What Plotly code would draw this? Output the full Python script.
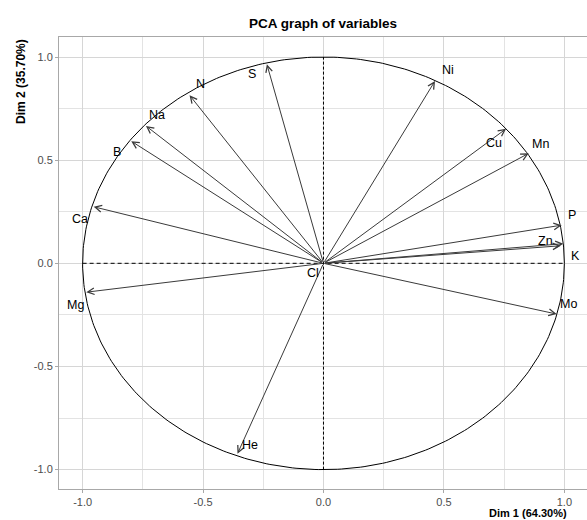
import numpy as np
import plotly.graph_objects as go

variables = ["S", "N", "Na", "B", "Ca", "Mg", "He", "Ni", "Cu", "Mn", "P", "Zn", "K", "Mo", "Cl"]
dim1 = [-0.235, -0.556, -0.737, -0.798, -0.954, -0.985, -0.357, 0.463, 0.758, 0.852, 0.989, 0.985, 0.996, 0.968, 0.01]
dim2 = [0.965, 0.815, 0.666, 0.592, 0.274, -0.140, -0.923, 0.884, 0.652, 0.533, 0.185, 0.085, 0.095, -0.246, 0.005]
tick_vals = [-1.0, -0.5, 0.0, 0.5, 1.0]
tick_text = ["-1.0", "-0.5", "0.0", "0.5", "1.0"]
title = "PCA graph of variables"
xlab = "Dim 1 (64.30%)"
ylab = "Dim 2 (35.70%)"

# label pixel offsets (layout only)
label_shift = {
    "S": (-15, -10), "N": (11, 11), "Na": (11, 11), "B": (-14, -11), "Ca": (-14, -12),
    "Mg": (-11, -13), "He": (13, 9), "Ni": (13, 11), "Cu": (-12, -14), "Mn": (12, 9),
    "P": (10, 10), "Zn": (-15, 5), "K": (12, -12), "Mo": (12, 10), "Cl": (-13, -11),
}

fig = go.Figure()

# correlation circle
t = np.linspace(0, 2 * np.pi, 400)
fig.add_trace(go.Scatter(x=np.cos(t), y=np.sin(t), mode="lines",
                         line=dict(color="black", width=1), hoverinfo="skip", showlegend=False))

# dashed axes lines inside circle
fig.add_shape(type="line", x0=-1, x1=1, y0=0, y1=0, xref="x", yref="y",
              line=dict(color="black", width=1, dash="4px,3px"))
fig.add_shape(type="line", x0=0, x1=0, y0=-1, y1=1, xref="x", yref="y",
              line=dict(color="black", width=1, dash="3px,2px"))

annotations = []
for v, x, y in zip(variables, dim1, dim2):
    annotations.append(dict(x=x, y=y, ax=0, ay=0, xref="x", yref="y", axref="x", ayref="y",
                            showarrow=True, arrowhead=5, arrowsize=1.3, arrowwidth=1,
                            arrowcolor="#3a3a3a", text=""))
    dx, dy = label_shift[v]
    annotations.append(dict(x=x, y=y, xref="x", yref="y", text=v, showarrow=False,
                            xshift=dx, yshift=dy,
                            font=dict(family="Liberation Sans, Arial", size=12.5, color="black")))

annotations.append(dict(text="<b>" + xlab + "</b>", xref="paper", yref="paper",
                        x=(487 - 58.7) / (587 - 58.7), y=-0.0535, xanchor="left", yanchor="middle",
                        showarrow=False, font=dict(family="Liberation Sans, Arial", size=11, color="black")))
annotations.append(dict(text="<b>" + ylab + "</b>", xref="paper", yref="paper",
                        x=-0.073, y=1.0, xanchor="center", yanchor="top", textangle=-90,
                        showarrow=False, font=dict(family="Liberation Sans, Arial", size=12, color="black")))
annotations.append(dict(text="<b>" + title + "</b>", xref="paper", yref="paper",
                        x=(323.3 - 58.7) / (587 - 58.7), y=1.0 + 14 / 452.6, xanchor="center", yanchor="middle",
                        showarrow=False, font=dict(family="Liberation Sans, Arial", size=13.5, color="black")))

axis_common = dict(
    tickvals=tick_vals, ticktext=tick_text, showgrid=True, gridcolor="#d6d6d6", gridwidth=1,
    minor=dict(showgrid=True, gridcolor="#e3e3e3", gridwidth=1, dtick=0.25, tick0=0.25),
    zeroline=False, showline=True, linecolor="#a8a8a8", linewidth=1, mirror=True,
    ticks="outside", ticklen=3, tickcolor="#a8a8a8",
    tickfont=dict(family="Liberation Sans, Arial", size=11, color="#4d4d4d"),
)

fig.update_layout(
    width=587, height=520,
    margin=dict(l=59, r=0, t=37, b=31),
    plot_bgcolor="white", paper_bgcolor="white",
    xaxis=dict(range=[-1.098, 1.094], **axis_common),
    yaxis=dict(range=[-1.094, 1.097], **axis_common),
    annotations=annotations,
    showlegend=False,
)

fig.write_html("out.html", config={"displayModeBar": False},
               post_script="document.body.style.margin='0';document.body.style.overflow='hidden';")
